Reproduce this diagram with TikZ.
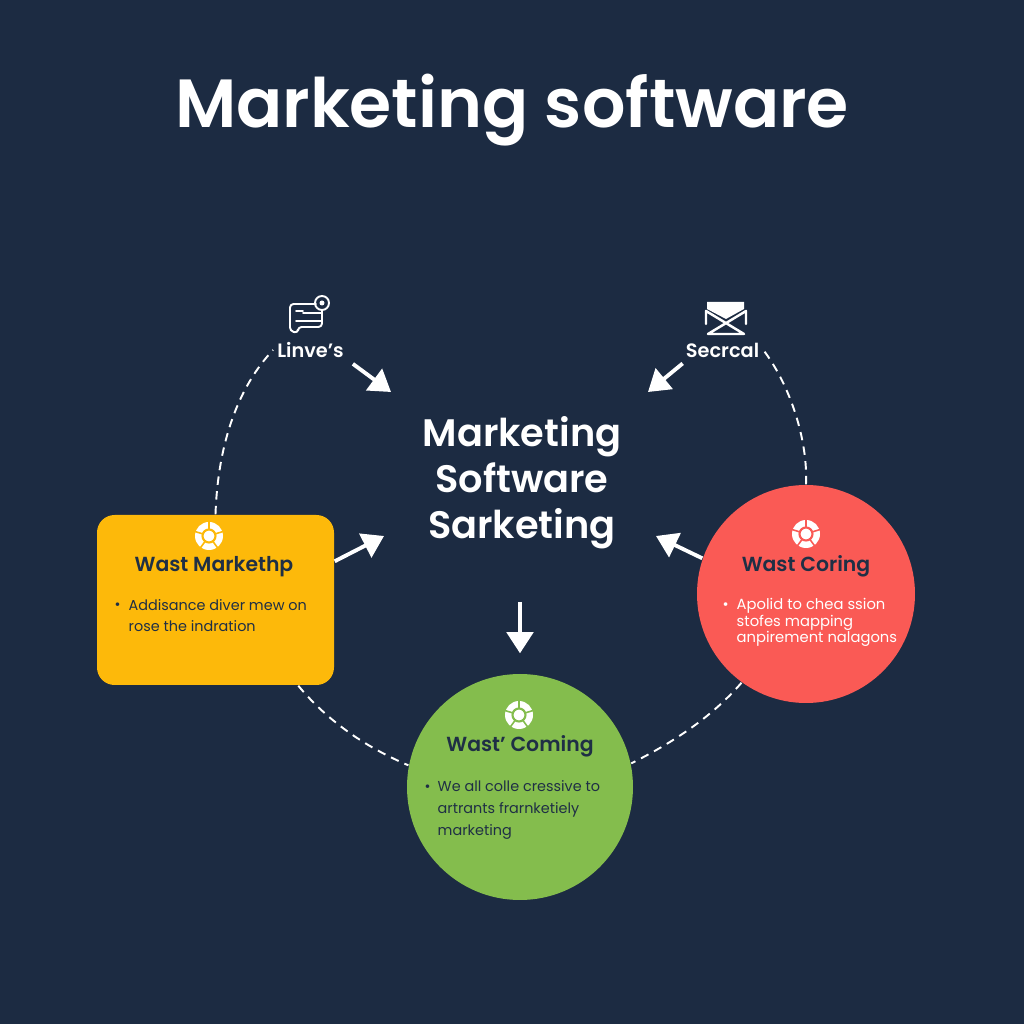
\documentclass[tikz,border=0pt]{standalone}
\usepackage{xcolor}
\usepackage{fontspec}
\setmainfont{Poppins}[BoldFont={Poppins SemiBold}]
\usetikzlibrary{arrows.meta}

\definecolor{bgnavy}{HTML}{1C2B42}
\definecolor{markyellow}{HTML}{FDB90A}
\definecolor{coringred}{HTML}{FA5A55}
\definecolor{cominggreen}{HTML}{84BD4D}
\definecolor{headdark}{HTML}{1F2F45}

\tikzset{
  titletext/.style={text=white,font=\bfseries\fontsize{19.4}{24}\selectfont,inner sep=0pt},
  centretext/.style={text=white,align=center,font=\bfseries\fontsize{10.9}{13.1}\selectfont,inner sep=0pt},
  sidelabel/.style={text=white,font=\bfseries\fontsize{5.5}{7}\selectfont,inner sep=1pt},
  headtext/.style={text=headdark,font=\bfseries\fontsize{5.8}{7}\selectfont,inner sep=0pt},
  bodytext/.style={align=left,inner sep=0pt,anchor=base west},
  dashline/.style={draw=white,line width=0.55pt,dash pattern=on 2.4pt off 1.8pt},
  bigarrow/.style={draw=white,line width=1.1pt,-{Triangle[length=6pt,width=7.5pt]}},
  iconline/.style={draw=white,line width=0.55pt,line cap=round,line join=round},
  ball/.pic={
    \fill[white] (0,0) circle (0.14);
    \foreach \a in {90,162,234,306,18} {
      \draw[#1,line width=0.45pt] (\a:0.07) -- (\a:0.15);
    }
    \draw[#1,line width=0.6pt] (0,0) circle (0.065);
  }
}

\begin{document}
\begin{tikzpicture}
\useasboundingbox (0,0) rectangle (10.24,10.24);
\fill[bgnavy] (0,0) rectangle (10.24,10.24);

% Title
\node[titletext,anchor=base] (title) at (5.12,8.96) {Marketing software};

% Middle text
\node[centretext] (centre) at (5.22,5.41) {Marketing\\Software\\Sarketing};

% Three cards
\node[fill=markyellow,rounded corners=5pt,minimum width=2.37cm,minimum height=1.7cm,inner sep=0pt] (markbox) at (2.155,4.24) {};
\node[fill=coringred,circle,minimum size=2.18cm,inner sep=0pt] (coringcirc) at (8.06,4.30) {};
\node[fill=cominggreen,circle,minimum size=2.26cm,inner sep=0pt] (comingcirc) at (5.2,2.37) {};

% Yellow card
\pic at (2.09,4.88) {ball=markyellow};
\node[headtext,anchor=base] (markhead) at (2.14,4.52) {Wast Markethp};
\node[bodytext,font=\fontsize{4.1}{6}\selectfont,text=headdark] (markbull) at (1.14,4.14) {•};
\node[bodytext,font=\fontsize{4.1}{6}\selectfont,text=headdark] (markbody) at (1.28,3.92) {Addisance diver mew on\\rose the indration};

% Red card
\pic at (8.06,4.90) {ball=coringred};
\node[headtext,anchor=base] (coringhead) at (8.06,4.52) {Wast Coring};
\node[bodytext,font=\fontsize{4.2}{4.7}\selectfont,text=white] (coringbull) at (7.22,4.14) {•};
\node[bodytext,font=\fontsize{4.2}{4.7}\selectfont,text=white] (coringbody) at (7.36,3.81) {Apolid to chea ssion\\stofes mapping\\anpirement nalagons};

% Green card
\pic at (5.19,3.09) {ball=cominggreen};
\node[headtext,anchor=base] (cominghead) at (5.2,2.72) {Wast' Coming};
\node[bodytext,font=\fontsize{4.1}{6.2}\selectfont,text=headdark] (comingbull) at (4.24,2.32) {•};
\node[bodytext,font=\fontsize{4.1}{6.2}\selectfont,text=headdark] (comingbody) at (4.37,1.89) {We all colle cressive to\\artrants frarnketiely\\marketing};

% Top labels
\node[sidelabel] (linves) at (3.105,6.74) {Linve's};
\node[sidelabel] (secrcal) at (7.225,6.74) {Secrcal};

% Document icon
\draw[iconline,rounded corners=1pt] (3.16,7.20) -- (2.90,7.20) -- (2.90,6.93) -- (2.98,6.91) -- (2.98,6.97) -- (3.22,6.97) -- (3.22,7.14);
\draw[iconline] (2.96,7.13) -- (3.03,7.13) (3.03,7.11) -- (3.22,7.11) (2.96,7.03) -- (3.22,7.03);
\draw[iconline] (3.22,7.21) circle (0.07);
\fill[white] (3.22,7.21) circle (0.025);

% Envelope icon
\fill[white] (7.07,7.22) -- (7.44,7.22) -- (7.44,7.15) -- (7.26,7.05) -- (7.07,7.15) -- cycle;
\draw[iconline,line width=0.7pt] (7.06,7.00) -- (7.06,7.13) -- (7.44,6.90) (7.46,7.00) -- (7.46,7.13) -- (7.08,6.90) -- (7.44,6.90);

% Dashed ring
\draw[dashline] (markbox.north) .. controls (2.18,5.84) and (2.4,6.39) .. (linves.west);
\draw[dashline] (coringcirc.north) .. controls (8.08,5.84) and (7.9,6.39) .. (secrcal.east);
\draw[dashline] (markbox.-46) .. controls (3.3,3.0) and (3.7,2.75) .. (comingcirc.169);
\draw[dashline] (coringcirc.234) .. controls (7.1,3.05) and (6.7,2.8) .. (comingcirc.12);

% Arrows
\coordinate (linvestip) at (3.91,6.32);
\coordinate (secrcaltip) at (6.48,6.32);
\coordinate (marktip) at (3.84,4.88);
\coordinate (coringtip) at (6.56,4.88);
\draw[bigarrow] (linves.south east) ++(0.05,-0.02) -- (linvestip);
\draw[bigarrow] (secrcal.south west) ++(0.01,-0.02) -- (secrcaltip);
\draw[bigarrow] (markbox.18.7) -- (marktip);
\draw[bigarrow] (coringcirc.161.7) -- (coringtip);
\draw[bigarrow,shorten <=0.52cm,shorten >=0.2cm] (comingcirc.north |- centre.south) -- (comingcirc.north);
\end{tikzpicture}
\end{document}
